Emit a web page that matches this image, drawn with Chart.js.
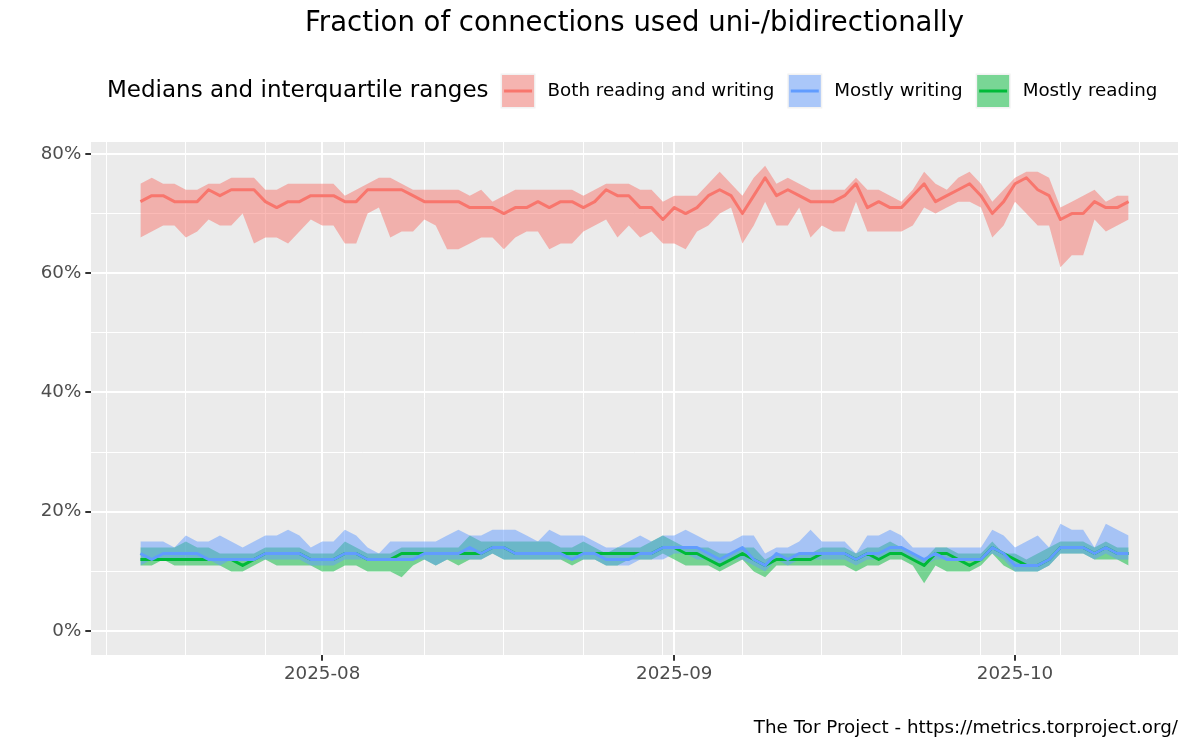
<!DOCTYPE html>
<html>
<head>
<meta charset="utf-8">
<script src="https://cdn.jsdelivr.net/npm/chart.js@4.4.1/dist/chart.umd.min.js"></script>
<style>
  html, body { margin: 0; padding: 0; background: #fff; }
  canvas { display: block; }
</style>
</head>
<body>
<canvas id="chartConexiones" width="1200" height="750"></canvas>
<script>
// dias desde 2025-07-16 (indice 0) hasta 2025-10-11 (indice 87)
const primerDia = '2025-07-16'

// Both reading and writing (%)
const bothMedian = [72,73,73,72,72,72,74,73,74,74, 74,72,71,72,72,73,73,73,72,72, 74,74,74,74,73,72,72,72,72,71, 71,71,70,71,71,72,71,72,72,71, 72,74,73,73,71,71,69,71,70,71, 73,74,73,70,73,76,73,74,73,72, 72,72,73,75,71,72,71,71,73,75, 72,73,74,75,73,70,72,75,76,74, 73,69,70,70,72,71,71,72]
const bothHigh   = [75,76,75,75,74,74,75,75,76,76, 76,74,74,75,75,75,75,75,73,74, 75,76,76,75,74,74,74,74,74,73, 74,72,73,74,74,74,74,74,74,73, 74,75,75,75,74,74,72,73,73,73, 75,77,75,73,76,78,75,76,75,74, 74,74,74,76,74,74,73,72,74,77, 75,74,76,77,75,72,74,76,77,77, 76,71,72,73,74,72,73,73]
const bothLow    = [66,67,68,68,66,67,69,68,68,70, 65,66,66,65,67,69,68,68,65,65, 70,71,66,67,67,69,68,64,64,65, 66,66,64,66,67,67,64,65,65,67, 68,69,66,68,66,67,65,65,64,67, 68,70,71,65,68,72,68,68,71,66, 68,67,67,72,67,67,67,67,68,71, 70,71,72,72,71,66,68,72,70,68, 68,61,63,63,69,67,68,69]

// Mostly writing (%)
const writingMedian = [13,12,13,13,13,13,12,12,12,12, 12,13,13,13,13,12,12,12,13,13, 12,12,12,12,12,13,13,13,13,14, 13,14,14,13,13,13,13,13,12,13, 13,12,12,12,13,13,14,14,14,14, 13,12,13,14,12,11,13,12,13,13, 13,13,13,12,13,13,14,14,13,12, 13,12,12,12,12,14,13,11,11,11, 12,14,14,14,13,14,13,13]
const writingHigh   = [15,15,15,14,16,15,15,16,15,14, 15,16,16,17,16,14,15,15,17,16, 14,13,15,15,15,15,15,16,17,16, 16,17,17,17,16,15,17,16,16,16, 15,14,14,15,16,15,16,16,17,16, 15,15,15,16,16,13,14,14,15,17, 15,15,15,13,16,16,17,16,14,14, 14,14,14,14,14,17,16,14,15,16, 14,18,17,17,14,18,17,16]
const writingLow    = [11,12,12,12,12,12,12,11,12,12, 12,12,12,12,12,11,11,11,12,12, 12,12,12,12,12,12,11,12,12,12, 12,13,12,12,12,12,12,12,12,12, 12,11,11,11,12,12,12,13,13,12, 12,11,12,12,11,10,12,11,12,12, 12,12,12,11,12,12,13,13,12,11, 12,12,12,12,12,13,12,10,10,10, 11,13,13,13,12,13,12,12]

// Mostly reading (%)
const readingMedian = [12,12,12,12,12,12,12,12,12,11, 12,13,13,13,13,12,12,12,13,13, 12,12,12,13,13,13,13,13,13,13, 13,14,14,13,13,13,13,13,13,13, 13,13,13,13,13,13,14,14,13,13, 12,11,12,13,12,11,12,12,12,12, 13,13,13,12,13,12,13,13,12,11, 13,13,12,11,12,14,13,12,11,11, 12,14,14,14,13,14,13,13]
const readingHigh   = [14,14,14,14,15,14,14,13,13,13, 13,14,14,14,14,13,13,13,15,14, 13,13,13,14,14,14,14,14,14,16, 15,15,15,15,15,15,15,14,14,15, 14,13,14,14,14,15,16,15,14,14, 14,13,13,14,14,12,13,13,13,13, 14,14,14,13,14,14,15,14,13,12, 14,14,13,13,13,15,13,13,12,13, 14,15,15,15,14,15,14,14]
const readingLow    = [11,11,12,11,11,11,11,11,10,10, 11,12,11,11,11,11,10,10,11,11, 10,10,10,9,11,12,11,12,11,12, 12,13,12,12,12,12,12,12,11,12, 12,11,11,12,12,12,13,12,11,11, 11,10,11,12,10,9,11,11,11,11, 11,11,11,10,11,11,12,12,11,8, 11,10,10,10,11,13,11,10,10,10, 11,13,13,13,12,12,12,11]

// ejes
const monthTickDays = [16, 47, 77]
const monthTickLabels = ['2025-08', '2025-09', '2025-10']
const weekTickDays = [-3, 4, 11, 18, 25, 32, 39, 46, 53, 60, 67, 74, 81, 88]
const yTicksMajor = [0, 20, 40, 60, 80]
const yTicksMinor = [10, 30, 50, 70]

const series = [
    { label: 'Both reading and writing', median: bothMedian, high: bothHigh, low: bothLow, line: '#F8766D', fill: 'rgba(248,118,109,0.5)' },
    { label: 'Mostly writing', median: writingMedian, high: writingHigh, low: writingLow, line: '#619CFF', fill: 'rgba(97,156,255,0.5)' },
    { label: 'Mostly reading', median: readingMedian, high: readingHigh, low: readingLow, line: '#00BA38', fill: 'rgba(0,186,56,0.5)' },
]

const toPoints = arr => arr.map((v, i) => ({ x: i, y: v }))

// orden de dibujo: bandas roja, verde, azul; luego lineas roja, verde, azul
const bandOrder = { 'Both reading and writing': 20, 'Mostly reading': 18, 'Mostly writing': 16 }
const lineOrder = { 'Both reading and writing': 3, 'Mostly reading': 2, 'Mostly writing': 1 }

const datasets = []
series.forEach(s => {
    datasets.push({
        label: s.label + ' q3',
        data: toPoints(s.high),
        borderWidth: 0,
        borderColor: 'rgba(0,0,0,0)',
        backgroundColor: s.fill,
        fill: '+1',
        pointRadius: 0,
        order: bandOrder[s.label]
    })
    datasets.push({
        label: s.label + ' q1',
        data: toPoints(s.low),
        borderWidth: 0,
        borderColor: 'rgba(0,0,0,0)',
        fill: false,
        pointRadius: 0,
        order: bandOrder[s.label] - 1
    })
})
series.forEach(s => {
    datasets.push({
        label: s.label,
        data: toPoints(s.median),
        borderColor: s.line,
        borderWidth: 3,
        borderJoinStyle: 'round',
        fill: false,
        pointRadius: 0,
        tension: 0,
        order: lineOrder[s.label]
    })
})

const FONT = '"DejaVu Sans", sans-serif'

const decoracion = {
    id: 'decoracion',
    beforeDraw(chart) {
        const { ctx, chartArea: a } = chart
        ctx.save()
        ctx.fillStyle = '#FFFFFF'
        ctx.fillRect(0, 0, chart.width, chart.height)
        ctx.fillStyle = '#EBEBEB'
        ctx.fillRect(a.left, a.top, a.right - a.left, a.bottom - a.top)
        ctx.restore()
    },
    afterDraw(chart) {
        const { ctx, chartArea: a } = chart
        ctx.save()
        ctx.fillStyle = '#000000'

        // titulo
        ctx.font = '27.5px ' + FONT
        ctx.textAlign = 'center'
        ctx.textBaseline = 'alphabetic'
        ctx.fillText('Fraction of connections used uni-/bidirectionally', (a.left + a.right) / 2, 31)

        // leyenda
        const ly = 91
        ctx.textAlign = 'left'
        ctx.textBaseline = 'middle'
        ctx.font = '23px ' + FONT
        let x = 107
        const titulo = 'Medians and interquartile ranges'
        ctx.fillText(titulo, x, ly)
        x += ctx.measureText(titulo).width + 12
        ctx.font = '18.3px ' + FONT
        series.forEach(s => {
            const k = 35
            ctx.fillStyle = '#F2F2F2'
            ctx.fillRect(x, ly - k / 2, k, k)
            ctx.fillStyle = s.fill
            ctx.fillRect(x + 1.5, ly - k / 2 + 1.5, k - 3, k - 3)
            ctx.strokeStyle = s.line
            ctx.lineWidth = 3
            ctx.beginPath()
            ctx.moveTo(x + 3.5, ly)
            ctx.lineTo(x + k - 3.5, ly)
            ctx.stroke()
            x += k + 12
            ctx.fillStyle = '#000000'
            ctx.fillText(s.label, x, ly)
            x += ctx.measureText(s.label).width + 13
        })

        // pie
        ctx.textAlign = 'right'
        ctx.fillText('The Tor Project - https://metrics.torproject.org/', a.right, 728)
        ctx.restore()
    }
}

const isMonth = v => monthTickDays.includes(v)
const isMajorY = v => yTicksMajor.includes(v)

const canvas = document.getElementById('chartConexiones')
const context = canvas.getContext('2d')

const chartConexiones = new Chart(context, {
    type: 'line',
    data: { datasets },
    options: {
        responsive: false,
        animation: false,
        devicePixelRatio: 1,
        events: [],
        layout: { padding: { top: 142, right: 22, bottom: 55, left: 0 } },
        plugins: {
            legend: { display: false },
            tooltip: { enabled: false },
            filler: { propagate: false }
        },
        scales: {
            x: {
                type: 'linear',
                min: -4.35,
                max: 91.35,
                afterBuildTicks: s => {
                    s.ticks = [...weekTickDays, ...monthTickDays].sort((a, b) => a - b).map(v => ({ value: v }))
                },
                afterFit: s => { s.height = 40 },
                ticks: {
                    autoSkip: false,
                    maxRotation: 0,
                    padding: 3,
                    color: '#4D4D4D',
                    font: { family: FONT, size: 18.3 },
                    callback: v => {
                        const i = monthTickDays.indexOf(v)
                        return i >= 0 ? monthTickLabels[i] : ''
                    }
                },
                grid: {
                    color: '#FFFFFF',
                    lineWidth: c => isMonth(c.tick.value) ? 2 : 1,
                    tickColor: c => isMonth(c.tick.value) ? '#333333' : 'rgba(0,0,0,0)',
                    tickLength: 5.7,
                    tickWidth: 2
                },
                border: { display: false }
            },
            y: {
                type: 'linear',
                min: -4.02,
                max: 82.0,
                afterBuildTicks: s => {
                    s.ticks = [...yTicksMajor, ...yTicksMinor].sort((a, b) => a - b).map(v => ({ value: v }))
                },
                afterFit: s => { s.width = 91 },
                ticks: {
                    autoSkip: false,
                    padding: 4,
                    color: '#4D4D4D',
                    font: { family: FONT, size: 18.3 },
                    callback: v => isMajorY(v) ? v + '%' : ''
                },
                grid: {
                    color: '#FFFFFF',
                    lineWidth: c => isMajorY(c.tick.value) ? 2 : 1,
                    tickColor: c => isMajorY(c.tick.value) ? '#333333' : 'rgba(0,0,0,0)',
                    tickLength: 5.7,
                    tickWidth: 2
                },
                border: { display: false }
            }
        }
    },
    plugins: [decoracion]
})
</script>
</body>
</html>
